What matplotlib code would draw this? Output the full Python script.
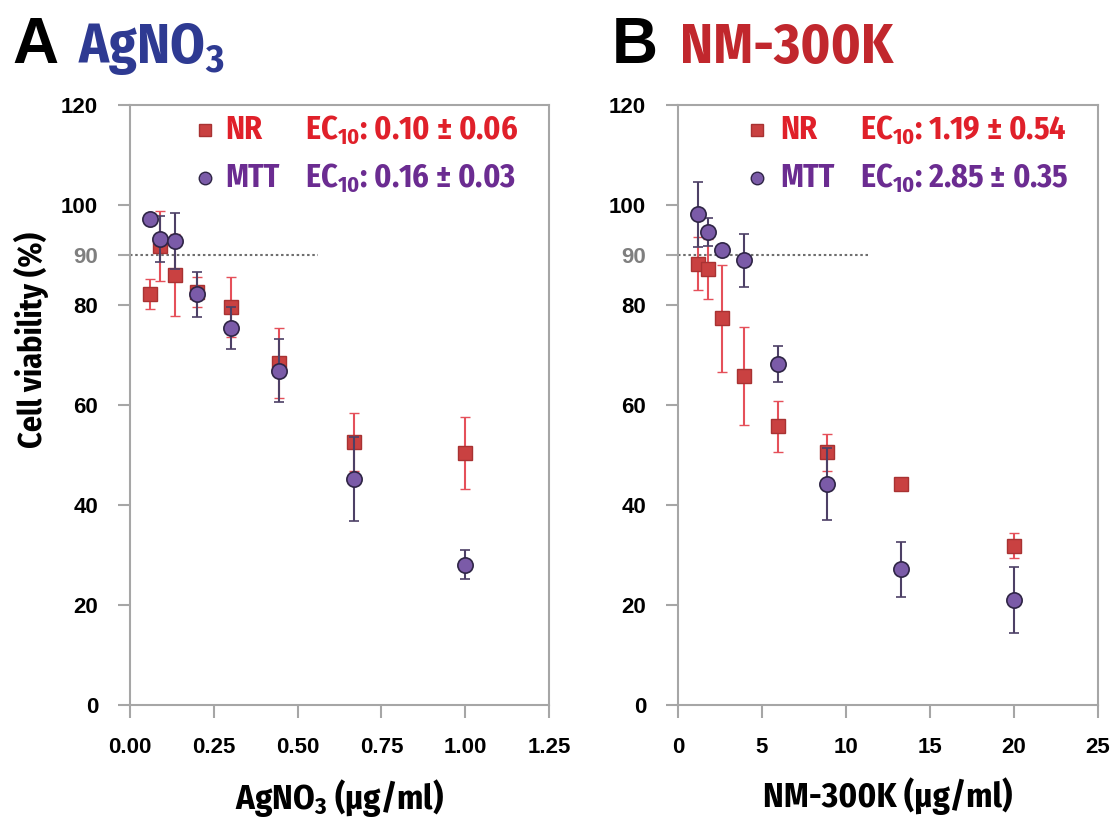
import matplotlib
matplotlib.use("Agg")
import matplotlib.pyplot as plt
from matplotlib import font_manager as fm

# ---------------- data ----------------
ag_conc = [0.059, 0.089, 0.133, 0.2, 0.3, 0.444, 0.667, 1.0]
ag_nr = [82.1, 91.8, 86.0, 82.6, 79.6, 68.3, 52.6, 50.4]
ag_nr_err = [3.0, 7.0, 8.2, 3.0, 6.0, 7.0, 5.8, 7.1]
ag_mtt = [97.2, 93.1, 92.8, 82.1, 75.3, 66.8, 45.2, 28.1]
ag_mtt_err = [0.5, 4.6, 5.6, 4.5, 4.2, 6.3, 8.4, 2.9]

nm_conc = [1.17, 1.76, 2.63, 3.95, 5.93, 8.89, 13.3, 20.0]
nm_nr = [88.2, 87.2, 77.3, 65.8, 55.7, 50.5, 44.2, 31.9]
nm_nr_err = [5.3, 6.0, 10.7, 9.8, 5.1, 3.6, 0.3, 2.5]
nm_mtt = [98.1, 94.6, 91.0, 88.9, 68.2, 44.2, 27.2, 21.0]
nm_mtt_err = [6.6, 2.8, 0.3, 5.3, 3.6, 7.1, 5.5, 6.6]

ag_xticks = [0.0, 0.25, 0.5, 0.75, 1.0, 1.25]
ag_xticklabels = ["0.00", "0.25", "0.50", "0.75", "1.00", "1.25"]
nm_xticks = [0, 5, 10, 15, 20, 25]
y_ticks = [0, 20, 40, 60, 80, 90, 100, 120]

ag_ec = ["EC$_{10}$: 0.10 ± 0.06", "EC$_{10}$: 0.16 ± 0.03"]
nm_ec = ["EC$_{10}$: 1.19 ± 0.54", "EC$_{10}$: 2.85 ± 0.35"]
threshold = 90
ag_thr_end = 0.56
nm_thr_end = 11.3

# ---------------- style ----------------
installed = {f.name for f in fm.fontManager.ttflist}
NARROW = [n for n in ["Fira Sans Condensed", "PT Sans Narrow", "Open Sans Condensed"]
          if n in installed][:1] + ["DejaVu Sans"]
WIDE = ["Liberation Sans", "DejaVu Sans"]
plt.rcParams["mathtext.default"] = "regular"

NR_FACE = "#C94141"
NR_EDGE = "#A83232"
NR_ERR = "#E5505A"
MTT_FACE = "#7B5BA8"
MTT_EDGE = "#2F2546"
MTT_ERR = "#4D4066"
NR_TXT = "#E0202A"
MTT_TXT = "#6B2C91"
SPINE = "#A6A6A6"

fig = plt.figure(figsize=(11.17, 8.22), dpi=100)
ax1 = fig.add_axes([130 / 1117, 117 / 822, 419 / 1117, 600 / 822])
ax2 = fig.add_axes([678 / 1117, 117 / 822, 420 / 1117, 600 / 822])


def style_axes(ax, xticks, xticklabels, xlim, xlabel):
    ax.set_xlim(*xlim)
    ax.set_ylim(0, 120)
    ax.set_xticks(xticks)
    ax.set_xticklabels(xticklabels, fontsize=16, fontweight="bold", family=WIDE)
    ax.set_yticks(y_ticks)
    ax.set_yticklabels([str(v) for v in y_ticks], fontsize=16, fontweight="bold", family=WIDE)
    for lab, v in zip(ax.get_yticklabels(), y_ticks):
        if v == threshold:
            lab.set_color("#7F7F7F")
    for s in ax.spines.values():
        s.set_color(SPINE)
        s.set_linewidth(1.5)
    ax.tick_params(axis="both", direction="out", length=9, width=1.5, color=SPINE)
    ax.tick_params(axis="x", pad=14)
    ax.tick_params(axis="y", pad=14)
    ax.set_xlabel(xlabel, fontsize=25, fontweight="bold", family=NARROW, labelpad=14)


def draw(ax, conc, nr, nr_err, mtt, mtt_err, thr_end):
    ax.plot([0, thr_end], [threshold, threshold], color="#6E6E6E",
            linestyle=(0, (1.2, 1.3)), lw=1.5, zorder=1)
    ax.errorbar(conc, nr, yerr=nr_err, fmt="s", ms=10, mfc=NR_FACE, mec=NR_EDGE,
                mew=1.0, ecolor=NR_ERR, elinewidth=1.5, capsize=3.5, capthick=1.5, zorder=3)
    ax.errorbar(conc, mtt, yerr=mtt_err, fmt="o", ms=11, mfc=MTT_FACE, mec=MTT_EDGE,
                mew=1.2, ecolor=MTT_ERR, elinewidth=1.5, capsize=3.5, capthick=1.5, zorder=4)


draw(ax1, ag_conc, ag_nr, ag_nr_err, ag_mtt, ag_mtt_err, ag_thr_end)
draw(ax2, nm_conc, nm_nr, nm_nr_err, nm_mtt, nm_mtt_err, nm_thr_end)

style_axes(ax1, ag_xticks, ag_xticklabels, (0, 1.25), "AgNO$_3$ (µg/ml)")
style_axes(ax2, nm_xticks, [str(v) for v in nm_xticks], (0, 25), "NM-300K (µg/ml)")


def legend(ax, mx, tx, ex, ec):
    ax.plot([mx], [0.958], marker="s", ms=8, mfc=NR_FACE, mec=NR_EDGE,
            transform=ax.transAxes, clip_on=False, zorder=5)
    ax.plot([mx], [0.878], marker="o", ms=9, mfc=MTT_FACE, mec=MTT_EDGE,
            transform=ax.transAxes, clip_on=False, zorder=5)
    kw = dict(fontsize=23, fontweight="bold", family=NARROW, va="center", ha="left",
              transform=ax.transAxes)
    ax.text(tx, 0.958, "NR", color=NR_TXT, **kw)
    ax.text(tx, 0.878, "MTT", color=MTT_TXT, **kw)
    ax.text(ex, 0.958, ec[0], color=NR_TXT, **kw)
    ax.text(ex, 0.878, ec[1], color=MTT_TXT, **kw)


legend(ax1, 0.179, 0.227, 0.418, ag_ec)
legend(ax2, 0.188, 0.243, 0.433, nm_ec)

fig.text(32 / 1117, 1 - 340 / 822, "Cell viability (%)", rotation=90, fontsize=23,
         fontweight="bold", family=NARROW, ha="center", va="center")

fig.text(12 / 1117, 1 - 63 / 822, "A", fontsize=46, fontweight="bold", family=WIDE,
         ha="left", va="baseline")
fig.text(78 / 1117, 1 - 63 / 822, "AgNO$_3$", fontsize=40, fontweight="bold",
         family=NARROW, color="#2E3A92", ha="left", va="baseline")
fig.text(612 / 1117, 1 - 63 / 822, "B", fontsize=46, fontweight="bold", family=WIDE,
         ha="left", va="baseline")
fig.text(680 / 1117, 1 - 63 / 822, "NM-300K", fontsize=40, fontweight="bold",
         family=NARROW, color="#C1272D", ha="left", va="baseline")

fig.savefig("out.png", dpi=100)
